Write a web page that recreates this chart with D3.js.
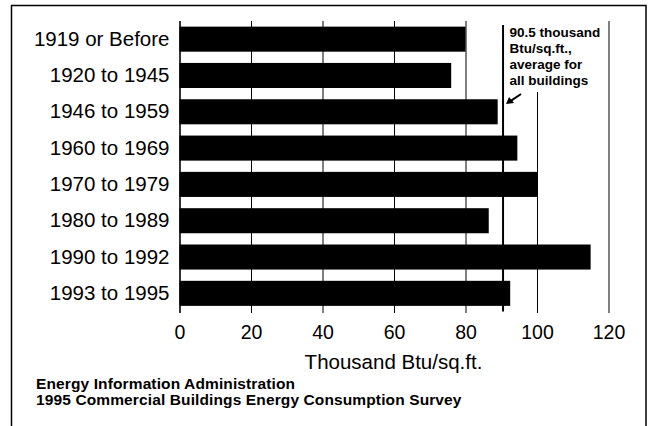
<!DOCTYPE html>
<html lang="en">
  <head>
    <meta charset="utf-8">
    <title>Energy intensity by year constructed</title>
    <script type="text/javascript" src="https://cdn.jsdelivr.net/npm/d3@7"></script>
    <style type="text/css">
      body { margin: 0; background: #fff; }
      text { font-family: Arial, "Liberation Sans", sans-serif; fill: #000; }
    </style>
  </head>
  <body>
    <script type="text/javascript">

      //Width and height
      var w = 650;
      var h = 426;

      //Data
      var categories = ["1919 or Before", "1920 to 1945", "1946 to 1959", "1960 to 1969",
                        "1970 to 1979", "1980 to 1989", "1990 to 1992", "1993 to 1995"];
      var values = [80, 76, 89, 94.5, 100, 86.5, 115, 92.5];
      var xTicks = [0, 20, 40, 60, 80, 100, 120];
      var average = 90.5;
      var noteLines = ["90.5 thousand", "Btu/sq.ft.,", "average for", "all buildings"];
      var sourceLines = ["Energy Information Administration",
                         "1995 Commercial Buildings Energy Consumption Survey"];

      //Plot area (not "top", that one is taken by window)
      var plotTop = 21, plotBottom = 311.5, plotLeft = 179.5, plotRight = 608.5;

      var x = d3.scaleLinear().domain([0, 120]).range([plotLeft, plotRight]);
      var y = d3.scaleBand().domain(categories).range([plotTop, plotBottom])
                .paddingInner(0.31).paddingOuter(0.155);

      //Create SVG element
      var svg = d3.select("body")
                  .append("svg")
                  .attr("width", w)
                  .attr("height", h);

      //Outer frame
      svg.append("rect")
         .attr("x", 11.5).attr("y", 5.5)
         .attr("width", 634.5).attr("height", 440)
         .attr("fill", "none")
         .attr("stroke", "#000")
         .attr("stroke-width", 1.5);

      //Gridlines + tick labels
      var xAxis = d3.axisBottom(x)
                    .tickValues(xTicks)
                    .tickSizeInner(-(plotBottom - plotTop))
                    .tickSizeOuter(0)
                    .tickPadding(13.5);

      var gx = svg.append("g")
                  .attr("transform", "translate(0," + plotBottom + ")")
                  .call(xAxis);
      gx.select(".domain").remove();
      gx.selectAll(".tick line")
        .attr("stroke", "#000")
        .attr("stroke-width", function(d) { return d === 0 ? 1.6 : 1; })
        .attr("y1", 1.5);
      gx.selectAll(".tick text")
        .style("font-size", "19.5px")
        .attr("fill", "#000");

      //Bars
      svg.selectAll("rect.bar")
         .data(values)
         .enter()
         .append("rect")
         .attr("class", "bar")
         .attr("x", x(0))
         .attr("y", function(d, i) { return y(categories[i]); })
         .attr("width", function(d) { return x(d) - x(0); })
         .attr("height", y.bandwidth())
         .attr("fill", "#000");

      //Category labels
      var yAxis = d3.axisLeft(y).tickSize(0).tickPadding(10);
      var gy = svg.append("g")
                  .attr("transform", "translate(" + plotLeft + ",0)")
                  .call(yAxis);
      gy.select(".domain").remove();
      gy.selectAll(".tick text")
        .style("font-size", "20.5px")
        .attr("fill", "#000");

      //White box behind the note
      var ax = x(average);
      svg.append("rect")
         .attr("x", ax + 2).attr("y", plotTop - 1)
         .attr("width", x(115) - ax - 2).attr("height", 72)
         .attr("fill", "#fff");

      //Average line
      svg.append("line")
         .attr("x1", ax).attr("x2", ax)
         .attr("y1", 25).attr("y2", plotBottom)
         .attr("stroke", "#000")
         .attr("stroke-width", 2);

      //Note text
      svg.selectAll("text.note")
         .data(noteLines)
         .enter()
         .append("text")
         .attr("class", "note")
         .attr("x", ax + 6.5)
         .attr("y", function(d, i) { return 37.3 + i * 16; })
         .style("font-size", "13.5px")
         .style("font-weight", "bold")
         .text(function(d) { return d; });

      //Arrow
      var hx = ax + 3, hy = 104;
      svg.append("line")
         .attr("x1", ax + 18).attr("y1", 94)
         .attr("x2", hx + 4).attr("y2", hy - 2.7)
         .attr("stroke", "#000")
         .attr("stroke-width", 2);
      svg.append("path")
         .attr("d", "M" + hx + "," + hy + "L" + (hx + 3) + "," + (hy - 7) +
                    "L" + (hx + 8) + "," + (hy - 1) + "Z")
         .attr("fill", "#000");

      //Axis title
      svg.append("text")
         .attr("x", 393.5)
         .attr("y", 369)
         .attr("text-anchor", "middle")
         .style("font-size", "20.5px")
         .text("Thousand Btu/sq.ft.");

      //Source
      svg.selectAll("text.source")
         .data(sourceLines)
         .enter()
         .append("text")
         .attr("class", "source")
         .attr("x", 36)
         .attr("y", function(d, i) { return 389 + i * 16; })
         .style("font-size", "15.5px")
         .style("font-weight", "bold")
         .style("letter-spacing", "0.12px")
         .text(function(d) { return d; });

    </script>
  </body>
</html>
